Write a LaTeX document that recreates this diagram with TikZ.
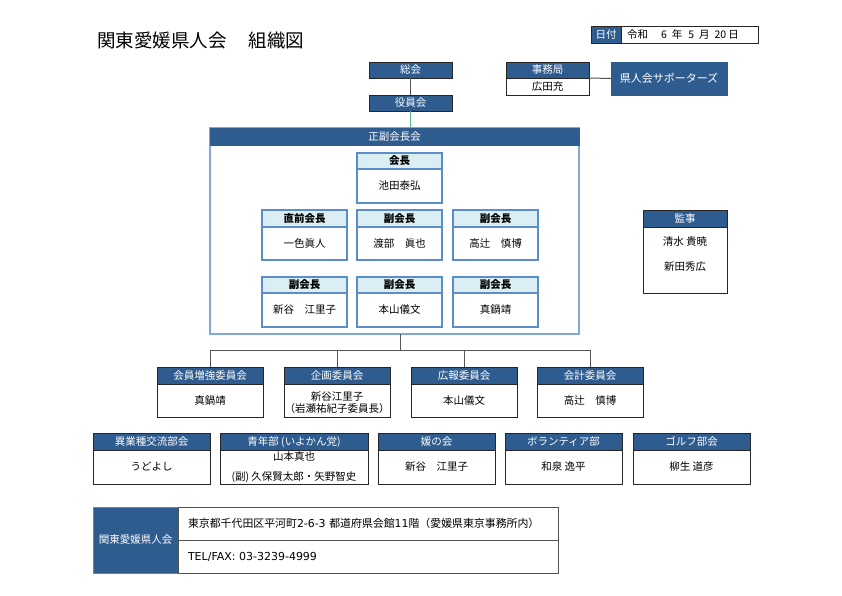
\documentclass[tikz,border=0pt]{standalone}
\usepackage{fontspec}
\setmainfont{Noto Sans CJK JP}
\newfontfamily\lat{DejaVu Sans}
\definecolor{dkblue}{HTML}{2F5C8F}
\definecolor{ltblue}{HTML}{DAEEF3}
\definecolor{inborder}{HTML}{5B8EC8}
\definecolor{outborder}{HTML}{7FA9D9}
\definecolor{lnk}{HTML}{555555}
\definecolor{greenln}{HTML}{5DB97F}
\definecolor{edge}{HTML}{262626}
\tikzset{
 base/.style={anchor=north west, inner sep=0pt, outer sep=0pt, font=\fontsize{10.5}{12.5}\selectfont, text height=9pt, text depth=1.5pt},
 dkhdr/.style={base, fill=dkblue, text=white, draw=edge, line width=0.9pt},
 dkbody/.style={base, fill=white, draw=edge, line width=0.9pt, align=center},
 lthdr/.style={base, fill=ltblue, draw=inborder, line width=1.2pt, font=\fontsize{10.5}{12.5}\selectfont\bfseries},
 ltbody/.style={base, fill=white, draw=inborder, line width=1.2pt, align=center},
 conn/.style={draw=lnk, line width=1pt},
 plain/.style={inner sep=0pt, font=\fontsize{10.5}{12.5}\selectfont, text height=9pt, text depth=1.5pt},
}
\newcommand\orgbox[9]{%
 \node[#2hdr, minimum width=#5pt, minimum height=#6pt] (#1h) at (#3,#4) {#8};
 \node[#2body, minimum width=#5pt, minimum height=#7pt] (#1) at (#1h.south west) {#9};
}
\begin{document}
\begin{tikzpicture}[x=1pt,y=-1pt]
\useasboundingbox[fill=white] (0,0) rectangle (842,595);
% title
\node[anchor=west, inner sep=0pt, font=\fontsize{18.5}{20}\selectfont] (title) at (97,41) {関東愛媛県人会\hspace{22pt}組織図};
% date
\node[dkhdr, minimum width=30pt, minimum height=17pt] (dateh) at (591,26) {日付};
\node[dkbody, minimum height=17pt, text width=125pt, inner xsep=6pt, align=left] (date) at (dateh.north east) {令和\hspace{13pt}6\hspace{5pt}年\hspace{6pt}5\hspace{5pt}月\hspace{5pt}20\hspace{2pt}日};
% top
\node[dkhdr, minimum width=83pt, minimum height=16pt] (sokai) at (369,62) {総会};
\node[dkhdr, minimum width=83pt, minimum height=16pt] (yakuin) at (369,95) {役員会};
\orgbox{jimu}{dk}{506}{62}{83}{16}{17}{事務局}{広田充}
\node[base, fill=dkblue, draw=dkblue, text=white, minimum width=116pt, minimum height=33pt, font=\fontsize{11}{13}\selectfont] (sup) at (611,62) {県人会サポーターズ};
% council
\node[base, fill=white, draw=outborder, line width=1.2pt, minimum width=369pt, minimum height=206pt] (council) at (210,128) {};
\node[base, fill=dkblue, draw=dkblue, text=white, minimum width=369pt, minimum height=17pt] (councilh) at (210,128) {正副会長会};
\orgbox{pres}{lt}{357}{153}{85}{16}{34}{会長}{池田泰弘}
\orgbox{vpa}{lt}{262}{210}{85}{17}{33}{直前会長}{一色眞人}
\orgbox{vpb}{lt}{357}{210}{85}{17}{33}{副会長}{渡部　眞也}
\orgbox{vpc}{lt}{453}{210}{85}{17}{33}{副会長}{高辻　慎博}
\orgbox{vpd}{lt}{262}{277}{85}{16}{34}{副会長}{新谷　江里子}
\orgbox{vpe}{lt}{357}{277}{85}{16}{34}{副会長}{本山儀文}
\orgbox{vpf}{lt}{453}{277}{85}{16}{34}{副会長}{真鍋靖}
% auditors
\orgbox{audit}{dk}{643}{210}{84}{17}{66}{監事}{}
\node[plain] (auditA) at (685,242) {清水 貴暁};
\node[plain] (auditB) at (685,267) {新田秀広};
% committees
\orgbox{ca}{dk}{157}{367}{106}{17}{33}{会員増強委員会}{真鍋靖}
\orgbox{cb}{dk}{284}{367}{106}{17}{33}{企画委員会}{}
\node[plain] (cbA) at (337,397) {新谷江里子};
\node[plain] (cbB) at (337,409) {（岩瀬祐紀子委員長）};
\orgbox{cc}{dk}{411}{367}{106}{17}{33}{広報委員会}{本山儀文}
\orgbox{cd}{dk}{537}{367}{106}{17}{33}{会計委員会}{高辻　慎博}
% clubs
\orgbox{ba}{dk}{93}{433}{117}{17}{34}{異業種交流部会}{うどよし}
\orgbox{bb}{dk}{220}{433}{148}{17}{34}{青年部 (いよかん党)}{}
\node[plain] (bbA) at (294,457) {山本真也};
\node[plain] (bbB) at (294,477) {(副) 久保賢太郎・矢野智史};
\orgbox{bc}{dk}{378}{433}{117}{17}{34}{媛の会}{新谷　江里子}
\orgbox{bd}{dk}{505}{433}{117}{17}{34}{ボランティア部}{和泉 逸平}
\orgbox{be}{dk}{633}{433}{117}{17}{34}{ゴルフ部会}{柳生 道彦}
% footer
\node[base, fill=dkblue, text=white, draw=gray, line width=1pt, minimum width=85pt, minimum height=66pt] (club) at (93,507) {関東愛媛県人会};
\node[base, fill=white, draw=edge!80, line width=1pt, minimum height=33pt, text width=360pt, inner xsep=10pt, align=left, font=\fontsize{10.9}{13}\selectfont] (addr) at (club.north east) {東京都千代田区平河町{\lat 2-6-3 }都道府県会館{\lat 11}階（愛媛県東京事務所内）};
\node[base, fill=white, draw=edge!80, line width=1pt, minimum height=33pt, text width=360pt, inner xsep=10pt, align=left] (tel) at (addr.south west) {\lat\fontsize{11}{13}\selectfont TEL/FAX: 03-3239-4999};
% connectors
\draw[conn] (sokai) -- (yakuin);
\draw[draw=greenln, line width=1pt] (yakuin.south) -- (yakuin.south |- councilh.north);
\draw[conn] (jimuh.south east) -- (sup.west);
\coordinate (bus) at (400,350);
\draw[conn] (bus |- council.south) -- (bus);
\draw[conn] (cah.north) -- (cah.north |- bus) -- (cdh.north |- bus) -- (cdh.north);
\draw[conn] (cbh.north) -- (cbh.north |- bus);
\draw[conn] (cch.north) -- (cch.north |- bus);
\end{tikzpicture}
\end{document}
